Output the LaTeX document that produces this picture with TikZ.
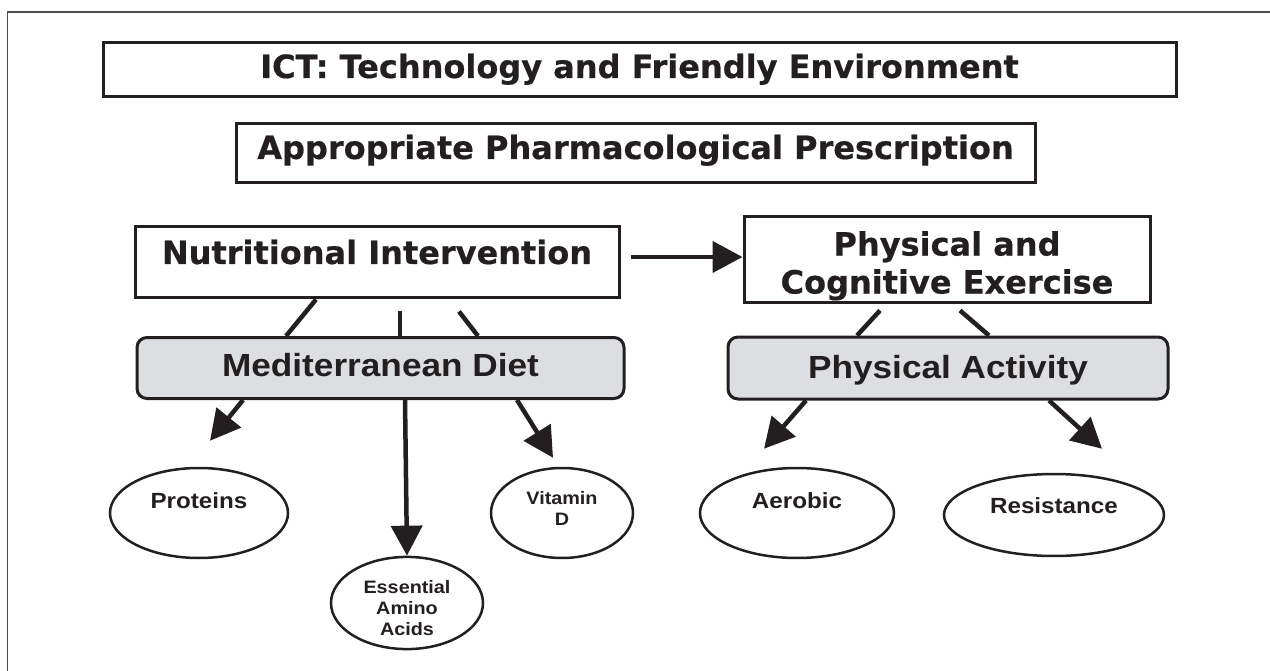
\documentclass[tikz,border=0pt]{standalone}
\usepackage{fontspec}
\usepackage{tikz}
\usetikzlibrary{arrows.meta, shapes.geometric, positioning}
\newfontfamily\headfont[FakeBold=0.5]{DejaVu Sans Bold}
\newfontfamily\armfont[FakeStretch=1.1]{Liberation Sans}
\definecolor{ink}{RGB}{35,31,32}
\definecolor{panel}{RGB}{221,222,225}
\tikzset{topbox/.style={rectangle,draw=ink,line width=3pt,inner sep=0pt,text=ink,
    font=\headfont\fontsize{32}{38}\selectfont},
    graybox/.style={rectangle,draw=ink,fill=panel,line width=3pt,rounded corners=10pt,
    inner sep=0pt,text=ink,text height=23pt,font=\armfont\bfseries\fontsize{32}{38}\selectfont},
    leaf/.style={ellipse,draw=ink,line width=2.5pt,inner sep=0pt,text=ink,align=center,
    font=\armfont\bfseries\fontsize{22}{24}\selectfont},
    smallleaf/.style={leaf,font=\armfont\bfseries\fontsize{18}{21}\selectfont},
    link/.style={draw=ink,line width=4.5pt},
    pointer/.style={link,-{Triangle[length=30pt,width=31pt]}}}

\begin{document}
\begin{tikzpicture}[x=1pt,y=-1pt]
\useasboundingbox (0,0) rectangle (1270,671);

% Frame of the figure (left and top edges)
\draw[ink!80, line width=1.5pt] (7.5,671) -- (7.5,12) -- (1270,12);

% Top boxes
\node[topbox, minimum width=1073pt, minimum height=54pt, text height=23pt, text depth=7pt] (ict) at (639.5,70) {ICT: Technology and Friendly Environment};
\node[topbox, minimum width=799pt, minimum height=59pt, text height=23pt, text depth=12pt] (presc) at (635.5,153.5) {Appropriate Pharmacological Prescription};

% The two interventions
\node[topbox, minimum width=484pt, minimum height=71pt, text height=23pt, text depth=20pt] (nutri) at (377,262.5) {Nutritional Intervention};
\node[topbox, minimum width=406pt, minimum height=86pt, align=center] (phys) at (947,260) {\rule{0pt}{36pt}Physical and\\Cognitive Exercise};

% Gray boxes
\node[graybox, minimum width=487pt, minimum height=61pt, text depth=6pt] (med) at (380.5,368) {Mediterranean Diet};
\node[graybox, minimum width=440pt, minimum height=62pt, text depth=3pt] (pact) at (948,368) {Physical Activity};

% Ellipses
\node[leaf, minimum width=178pt, minimum height=90pt, text height=16pt, text depth=26pt] (prot) at (199,513) {Proteins};
\node[smallleaf, minimum width=152pt, minimum height=90pt] (eaa) at (407,603) {\rule{0pt}{23pt}Essential\\Amino\\Acids};
\node[smallleaf, minimum width=142pt, minimum height=90pt] (vitd) at (562,513) {\rule{0pt}{8pt}Vitamin\\D\rule[-9pt]{0pt}{9pt}};
\node[leaf, minimum width=194pt, minimum height=90pt, text height=16pt, text depth=26pt] (aero) at (797,513) {Aerobic};
\node[leaf, minimum width=220pt, minimum height=82pt, text height=16pt, text depth=20pt] (resist) at (1054,515) {Resistance};

% Links between the boxes
\draw[pointer] ([xshift=10pt,yshift=5.5pt]nutri.east) -- ([yshift=3pt]phys.west);
\draw[link] ([xshift=-61pt]nutri.south) -- ([xshift=-94.5pt]med.north);
\draw[link] ([xshift=23pt,yshift=-12pt]nutri.south) -- ([xshift=19.5pt]med.north);
\draw[link] ([xshift=82pt,yshift=-12pt]nutri.south) -- ([xshift=97.5pt]med.north);
\draw[link] ([xshift=-67pt,yshift=-6pt]phys.south) -- ([xshift=-91pt]pact.north);
\draw[link] ([xshift=13pt,yshift=-6pt]phys.south) -- ([xshift=41pt]pact.north);

% Arrows to the ellipses
\draw[pointer] ([xshift=-137.5pt]med.south) -- ([xshift=11pt,yshift=26pt]prot.north);
\draw[pointer] ([xshift=24.5pt]med.south) -- (eaa.north);
\draw[pointer] ([xshift=136.5pt]med.south) -- ([xshift=-9pt,yshift=9pt]vitd.north);
\draw[pointer] ([xshift=-142pt]pact.south) -- ([xshift=-33pt,yshift=18pt]aero.north);
\draw[pointer] ([xshift=101pt]pact.south) -- ([xshift=48pt,yshift=24pt]resist.north);
\end{tikzpicture}
\end{document}
